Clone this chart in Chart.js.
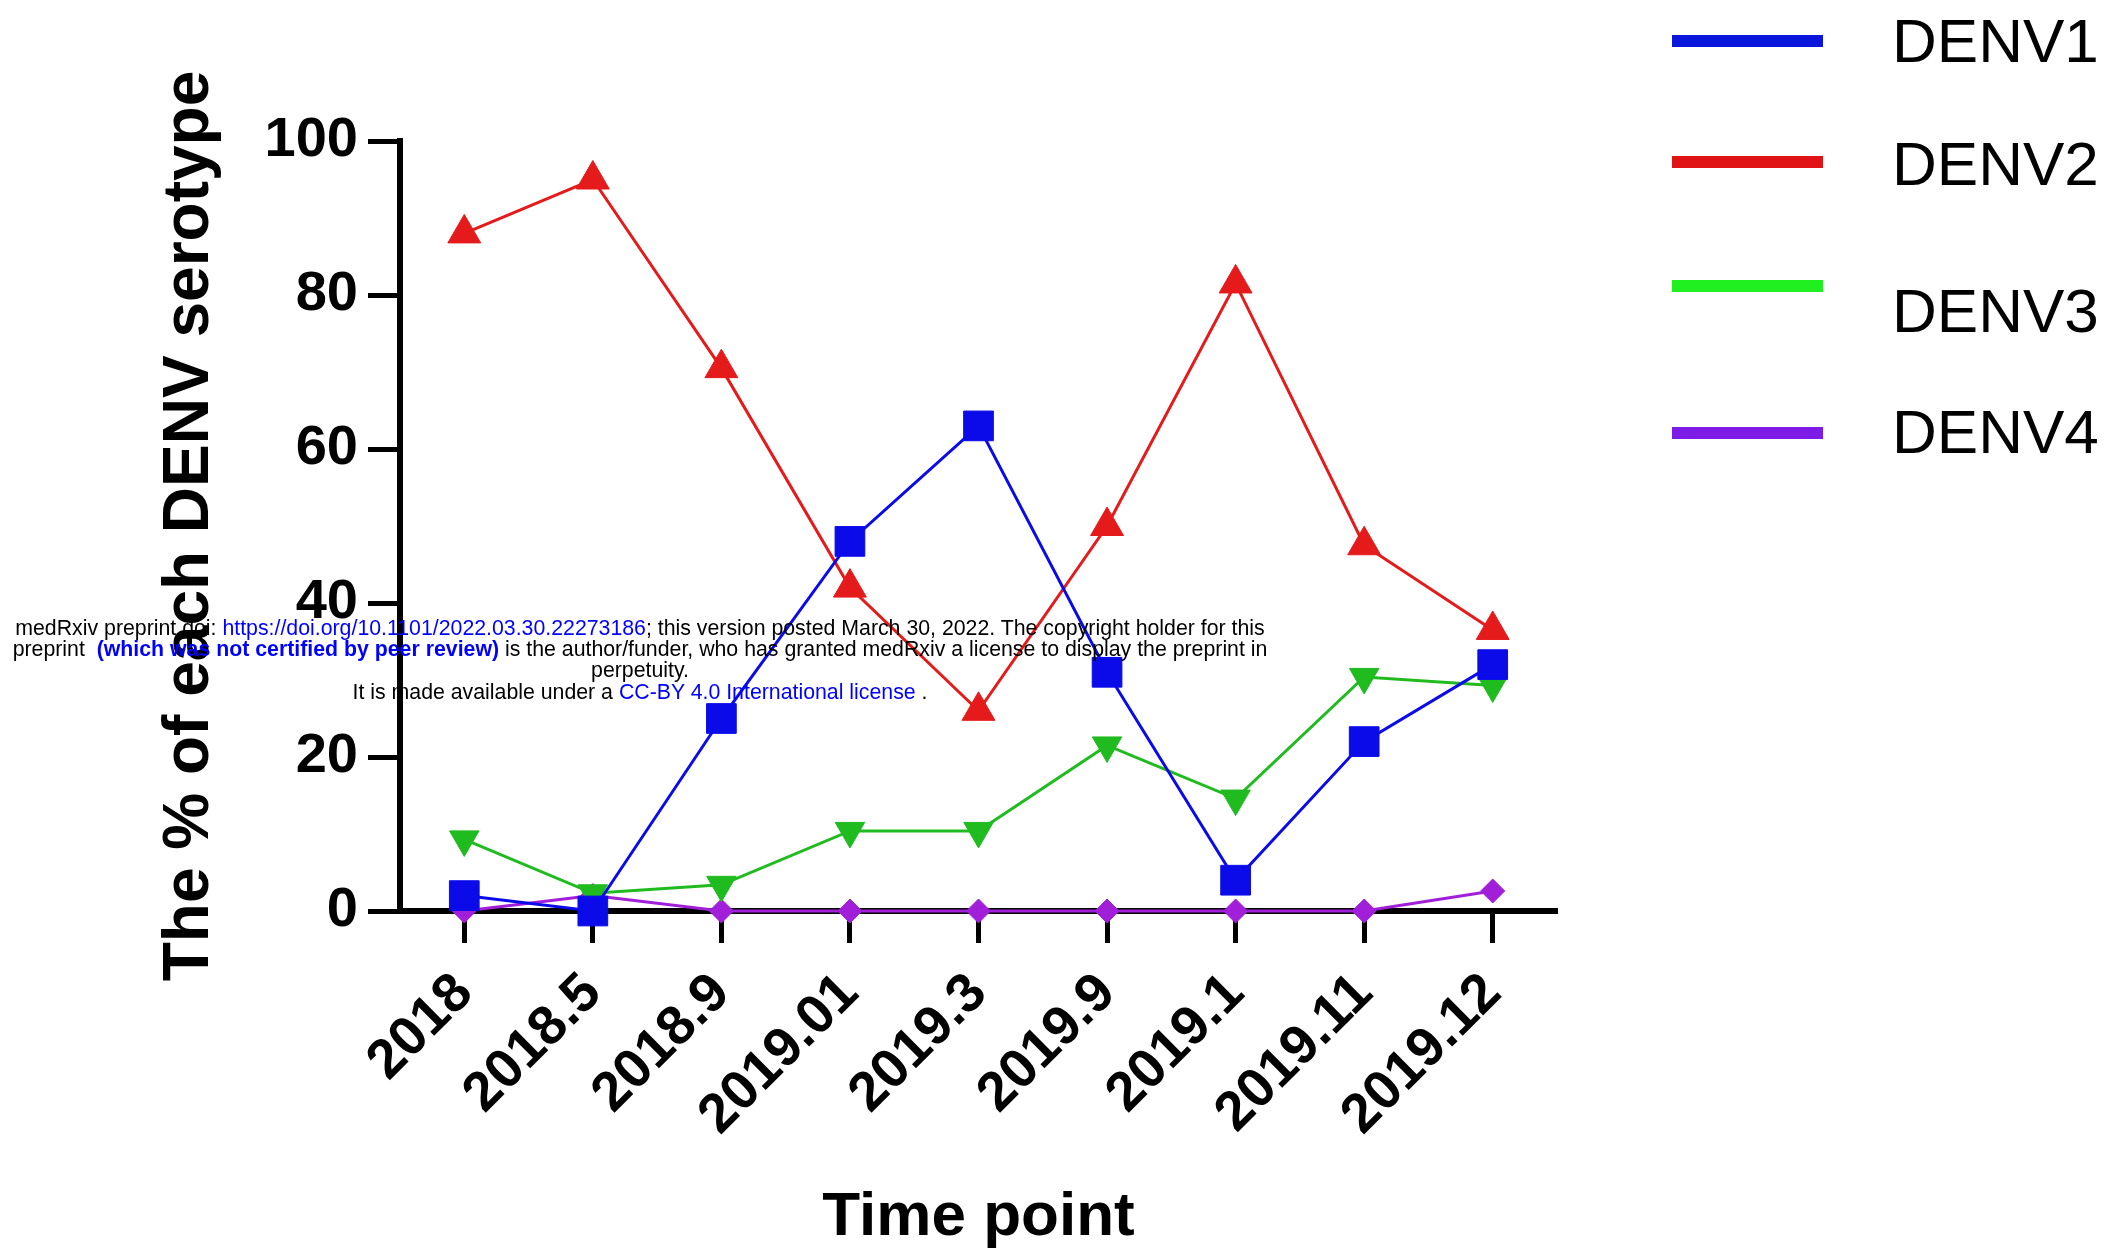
<!DOCTYPE html>
<html>
<head>
<meta charset="utf-8">
<script src="https://cdn.jsdelivr.net/npm/chart.js@4.4.0/dist/chart.umd.min.js"></script>
<style>
    body { margin: 0; background: #fff; }
    #wrap { position: relative; width: 2126px; height: 1255px; }
    #stamp {
        position: absolute; left: 0; top: 618px; width: 1280px;
        text-align: center; white-space: nowrap;
        font-family: "Liberation Sans", Arial, sans-serif;
        font-size: 21.3px; line-height: 21.2px; color: #000;
    }
    #stamp .lnk { color: #0000ff; }
    #stamp b { color: #0000ff; }
</style>
</head>
<body>
<div id="wrap">
    <canvas id="chart"></canvas>
    <div id="stamp">
        medRxiv preprint doi: <span class="lnk">https://doi.org/10.1101/2022.03.30.22273186</span>; this version posted March 30, 2022. The copyright holder for this<br>
        preprint &nbsp;<b>(which was not certified by peer review)</b> is the author/funder, who has granted medRxiv a license to display the preprint in<br>
        perpetuity.<br>
        It is made available under a <span class="lnk">CC-BY 4.0 International license</span> .
    </div>
</div>
<script>
// data
var timePoints = ['2018', '2018.5', '2018.9', '2019.01', '2019.3', '2019.9', '2019.1', '2019.11', '2019.12'];
var denv1 = [2, 0, 25, 48, 63, 31, 4, 22, 32];
var denv2 = [88, 95, 70.5, 42, 26, 50, 81.5, 47.5, 36.5];
var denv3 = [9.3, 2.3, 3.4, 10.4, 10.4, 21.5, 14.6, 30.4, 29.3];
var denv4 = [0, 2, 0, 0, 0, 0, 0, 0, 2.6];
var yTicks = [0, 20, 40, 60, 80, 100];

var serieNames = ['DENV1', 'DENV2', 'DENV3', 'DENV4'];
var lineColors = ['#0b0bea', '#e51b1b', '#1fbb1f', '#a21fd9'];
var legendColors = ['#0b16dc', '#e01414', '#20f020', '#7c1ce6'];

var FONT = "'Liberation Sans', Arial, sans-serif";
Chart.defaults.font.family = FONT;
Chart.defaults.color = '#000';

// legend drawn by hand, the rows in the figure are not evenly spaced
var legendLineY = [41, 162, 286, 433];
var legendTextY = [62, 185, 332, 453];
const handLegend = {
    id: 'handLegend',
    afterDraw(chart) {
        const ctx = chart.ctx;
        ctx.save();
        ctx.font = '62px ' + FONT;
        ctx.textBaseline = 'alphabetic';
        ctx.textAlign = 'left';
        for (var i = 0; i < serieNames.length; i++) {
            ctx.fillStyle = legendColors[i];
            ctx.fillRect(1672, legendLineY[i] - 6, 151, 12);
            ctx.fillStyle = '#000';
            ctx.fillText(serieNames[i], 1892, legendTextY[i]);
        }
        ctx.restore();
    }
};

function makeSet(idx, values, style, radius, rot) {
    return {
        label: serieNames[idx],
        data: values,
        borderColor: lineColors[idx],
        backgroundColor: lineColors[idx],
        pointBackgroundColor: lineColors[idx],
        pointBorderColor: lineColors[idx],
        borderWidth: 3,
        pointStyle: style,
        pointRadius: radius,
        pointRotation: rot || 0,
        pointBorderWidth: 1,
        tension: 0,
        clip: false
    };
}

const ctx = document.getElementById('chart');
new Chart(ctx, {
    type: 'line',
    data: {
        labels: timePoints,
        datasets: [
            makeSet(0, denv1, 'rect', 21),
            makeSet(1, denv2, 'triangle', 19),
            makeSet(2, denv3, 'triangle', 17, 180),
            makeSet(3, denv4, 'rectRot', 12)
        ]
    },
    options: {
        responsive: true,
        maintainAspectRatio: false,
        animation: false,
        devicePixelRatio: 1,
        layout: { padding: { left: 0, right: 569, top: 141, bottom: 0 } },
        plugins: {
            legend: { display: false },
            tooltip: { enabled: false }
        },
        scales: {
            x: {
                offset: true,
                afterFit: function (scale) { scale.height = 344; },
                border: { display: true, color: '#000', width: 6 },
                grid: { display: true, drawOnChartArea: false, drawTicks: true, tickLength: 32, tickWidth: 5, tickColor: '#000', offset: false },
                ticks: {
                    autoSkip: false, minRotation: 45, maxRotation: 45, padding: 18,
                    font: { size: 55, weight: 'bold' }, color: '#000'
                },
                title: {
                    display: true, text: 'Time point', color: '#000',
                    font: { size: 62, weight: 'bold' }, padding: { top: 0, bottom: 0 }
                }
            },
            y: {
                min: 0, max: 100,
                afterFit: function (scale) { scale.width = 400; },
                afterBuildTicks: function (scale) {
                    scale.ticks = yTicks.map(function (v) { return { value: v }; });
                },
                border: { display: true, color: '#000', width: 6 },
                grid: { display: true, drawOnChartArea: false, drawTicks: true, tickLength: 32, tickWidth: 5, tickColor: '#000' },
                ticks: { padding: 10, font: { size: 56, weight: 'bold' }, color: '#000' },
                title: {
                    display: true, text: 'The % of each DENV serotype', color: '#000',
                    font: { size: 64, weight: 'bold' }, padding: { top: 152, bottom: 0 }
                }
            }
        }
    },
    plugins: [handLegend]
});
</script>
</body>
</html>
